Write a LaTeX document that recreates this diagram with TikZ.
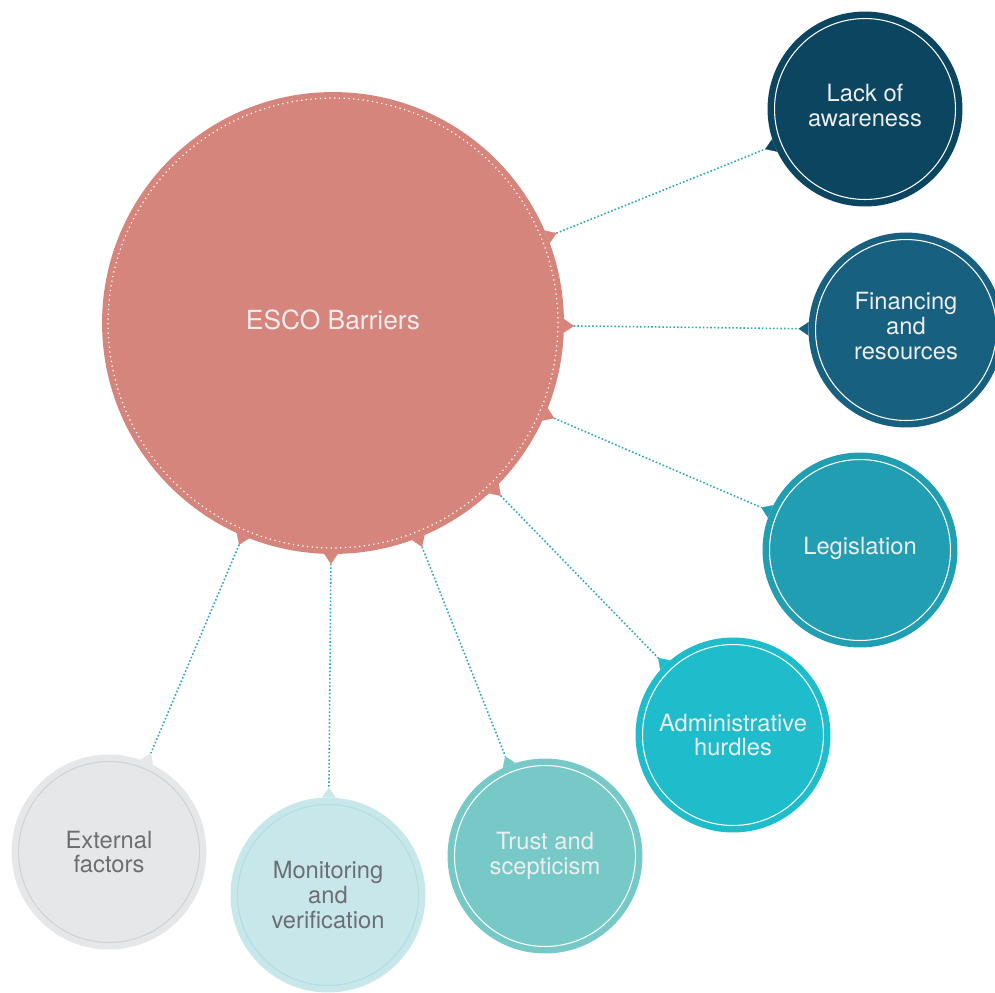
\documentclass[tikz,border=0pt]{standalone}
\usepackage{fontspec}
\usetikzlibrary{arrows.meta}
\newfontfamily\heros{TeX Gyre Heros}

\definecolor{escored}{HTML}{D5857B}
\definecolor{awarecol}{HTML}{0B4560}
\definecolor{financecol}{HTML}{18607F}
\definecolor{legiscol}{HTML}{229EB3}
\definecolor{admincol}{HTML}{1FBCCB}
\definecolor{trustcol}{HTML}{76C9C7}
\definecolor{monitorcol}{HTML}{C7E7EA}
\definecolor{monitorring}{HTML}{B3DCE1}
\definecolor{extcol}{HTML}{E6E7E8}
\definecolor{extring}{HTML}{D1D2D4}
\definecolor{paletext}{HTML}{EDEDED}
\definecolor{greytext}{HTML}{6D6E71}
\definecolor{linkteal}{HTML}{2AA7BB}

\tikzset{
  % fill, inner ring, text colour
  barrier/.style n args={3}{circle, minimum size=3.62cm, inner sep=0pt,
    outer sep=0.14cm, fill=#1, draw=#2, line width=0.6pt, text=#3,
    align=center, font=\heros\fontsize{13.5}{14.2}\selectfont,
    preaction={draw=#1, line width=0.28cm}},
  lifted/.style={text depth=0.15cm},
  hub/.style={circle, minimum size=9cm, inner sep=0pt, outer sep=0.12cm,
    fill=escored, draw=white, line width=0.7pt, dash pattern=on 0.7pt off 2pt,
    text=paletext, text depth=0.12cm, font=\heros\fontsize{15}{16}\selectfont,
    preaction={draw=escored, solid, line width=0.24cm}},
  % notch colours at start and end
  link/.style 2 args={draw=linkteal, line width=0.9pt,
    dash pattern=on 0.9pt off 1.2pt,
    {Triangle[reversed, length=0.2cm, width=0.27cm, line width=0.1pt, color=#1]}-%
    {Triangle[reversed, length=0.2cm, width=0.27cm, line width=0.1pt, color=#2]}}
}

\begin{document}
\begin{tikzpicture}[x=0.02cm, y=-0.02cm]
\useasboundingbox (0,0) rectangle (995,992);

\node[hub] (esco) at (333,323) {ESCO Barriers};

\node[barrier={awarecol}{white}{paletext}, lifted] (aware) at (865,109) {Lack of\\awareness};
\node[barrier={financecol}{white}{paletext}, lifted] (finance) at (906,330) {Financing\\and\\resources};
\node[barrier={legiscol}{white}{paletext}, lifted] (legis) at (860,550) {Legislation};
\node[barrier={admincol}{white}{paletext}] (admin) at (733,735) {Administrative\\hurdles};
\node[barrier={trustcol}{white}{paletext}] (trust) at (545,856) {Trust and\\scepticism};
\node[barrier={monitorcol}{monitorring}{greytext}] (monitor) at (328,895) {Monitoring\\and\\verification};
\node[barrier={extcol}{extring}{greytext}] (ext) at (109,852) {External\\factors};

% dotted links with a notch on both circles
\draw[link={escored}{awarecol}] (esco) -- (aware);
\draw[link={escored}{financecol}] (esco) -- (finance);
\draw[link={escored}{legiscol}] (esco) -- (legis);
\draw[link={escored}{admincol}] (esco) -- (admin);
\draw[link={escored}{trustcol}] (esco) -- (trust);
\draw[link={escored}{monitorcol}] (esco) -- (monitor);
\draw[link={escored}{extcol}] (esco) -- (ext);
\end{tikzpicture}
\end{document}
